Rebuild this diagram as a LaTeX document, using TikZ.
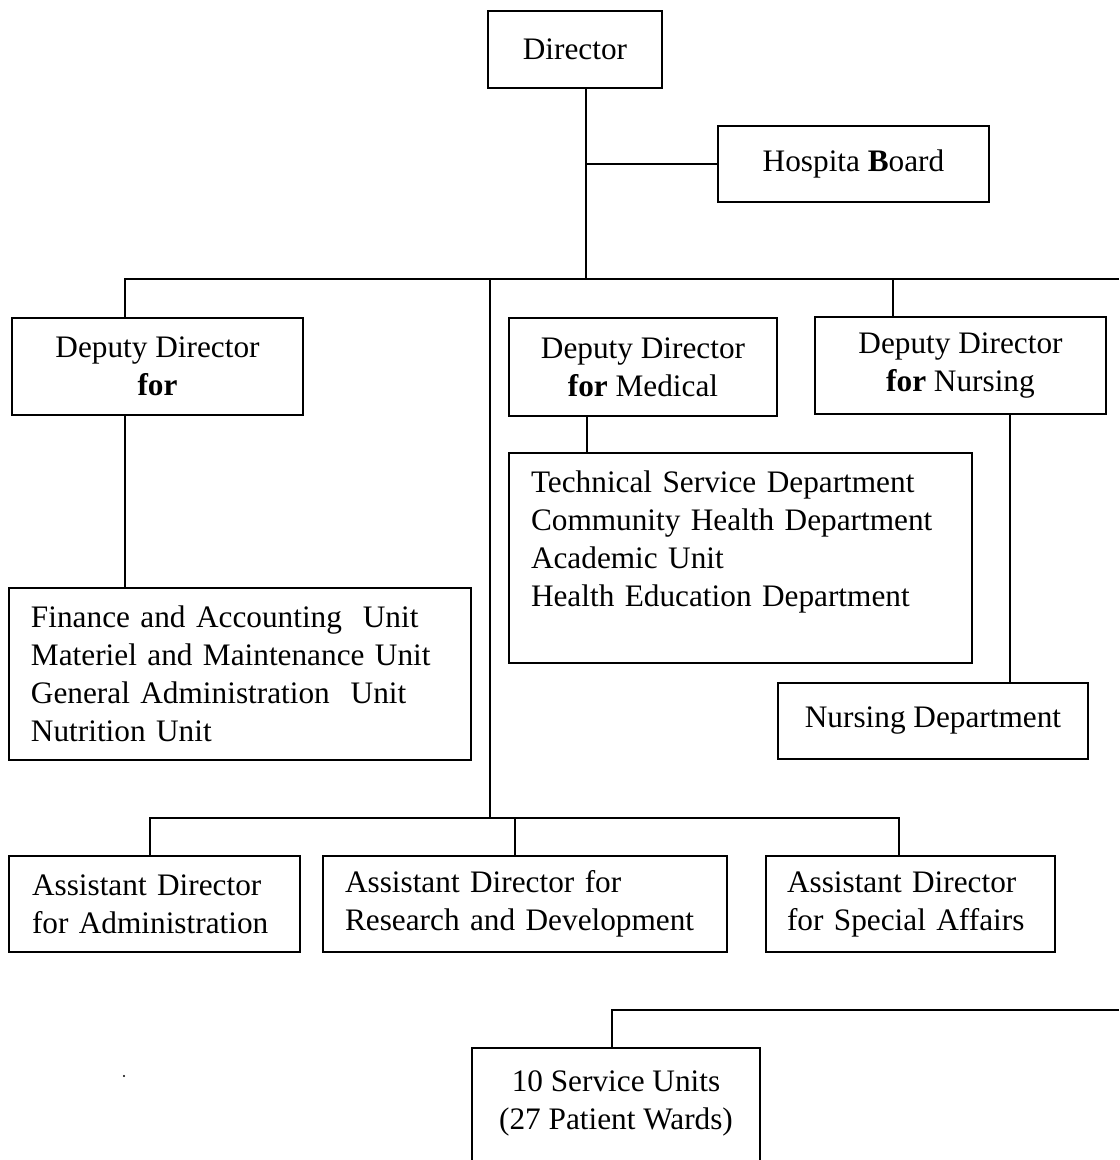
\documentclass[tikz,border=0pt]{standalone}
\usepackage{fontspec}
\setmainfont{Liberation Serif}
\usepackage{tikz}
\usetikzlibrary{positioning, calc}
\tikzset{
  orgbox/.style={
    draw, line width=0.6pt, align=center, outer sep=0pt, inner sep=0pt,
    font=\fontsize{8.9}{10.8}\selectfont
  },
  listbox/.style={
    draw, line width=0.6pt, align=left, outer sep=0pt,
    inner ysep=0pt, inner xsep=0.22cm,
    font=\fontsize{8.9}{10.8}\selectfont
  },
  orgline/.style={line width=0.6pt},
}

\begin{document}
\begin{tikzpicture}
  \useasboundingbox (0,0) rectangle (11.19,-11.60);
  \clip (0,0) rectangle (11.19,-11.60);

  % === Top level ===
  \node[orgbox, minimum width=1.74cm, minimum height=0.77cm] (dir) at (5.75,-0.495) {Director};
  \node[orgbox, minimum width=2.71cm, minimum height=0.76cm] (board) at (8.535,-1.64) {Hospita \textbf{B}oard};

  % === Deputy directors ===
  \node[orgbox, minimum width=2.91cm, minimum height=0.97cm] (ddgen) at (1.575,-3.665)
    {Deputy Director\\\textbf{for}};
  \node[orgbox, minimum width=2.68cm, minimum height=0.98cm] (ddmed) at (6.43,-3.67)
    {Deputy Director\\\textbf{for} Medical};
  \node[orgbox, minimum width=2.91cm, minimum height=0.97cm] (ddnur) at (9.605,-3.655)
    {Deputy Director\\\textbf{for} Nursing};

  % === Departments and units ===
  \node[listbox, text width=4.19cm, minimum height=2.10cm] (meddept) at (7.405,-5.58)
    {Technical Service Department\\
    Community Health Department\\
    Academic Unit\\
    Health Education Department\\~};
  \node[listbox, text width=4.18cm, minimum height=1.72cm] (units) at (2.40,-6.74)
    {Finance and Accounting\ \ Unit\\
    Materiel and Maintenance Unit\\
    General Administration\ \ Unit\\
    Nutrition Unit};
  \node[orgbox, minimum width=3.10cm, minimum height=0.76cm] (nurdept) at (9.33,-7.21) {Nursing Department};

  % === Assistant directors ===
  \node[listbox, text width=2.45cm, inner xsep=0.23cm, minimum height=0.96cm] (adadm) at (1.545,-9.04)
    {Assistant Director\\for Administration};
  \node[listbox, text width=3.60cm, minimum height=0.96cm] (adres) at (5.25,-9.04)
    {Assistant Director for\\Research and Development};
  \node[listbox, text width=2.47cm, inner xsep=0.21cm, minimum height=0.96cm] (adspec) at (9.105,-9.04)
    {Assistant Director\\for Special Affairs};

  % === Service units ===
  \node[orgbox, anchor=north, minimum width=2.88cm, minimum height=1.80cm] (service) at (6.16,-10.48)
    {10 Service Units\\(27 Patient Wards)\\~\\~};

  % === Connectors ===
  \coordinate (trunk) at (5.86,-2.79);
  \coordinate (busL) at (1.25,-2.79);
  \coordinate (busR) at (11.19,-2.79);
  \coordinate (midbus) at (4.90,-8.18);
  \coordinate (lowR) at (11.19,-10.10);

  \draw[orgline] (dir.south -| trunk) -- (trunk);
  \draw[orgline] (board.west) -- (board.west -| trunk);
  \draw[orgline] (ddgen.north -| busL) -- (busL) -- (busR);
  \draw[orgline] ([xshift=-0.675cm]ddnur.north) -- ([xshift=-0.675cm]ddnur.north |- busR);
  \draw[orgline] (busL -| midbus) -- (midbus);

  \draw[orgline] ([xshift=-0.325cm]ddgen.south) -- ([xshift=-0.325cm]ddgen.south |- units.north);
  \draw[orgline] ([xshift=-0.56cm]ddmed.south) -- ([xshift=-0.56cm]ddmed.south |- meddept.north);
  \draw[orgline] ([xshift=0.495cm]ddnur.south) -- ([xshift=0.495cm]ddnur.south |- nurdept.north);

  \draw[orgline] ([xshift=-0.045cm]adadm.north) -- ++(0,0.38)
    -- ([xshift=-0.115cm, yshift=0.38cm]adspec.north) -- ([xshift=-0.115cm]adspec.north);
  \draw[orgline] ([xshift=-0.10cm]adres.north) -- ++(0,0.38);

  \draw[orgline] ([xshift=-0.04cm]service.north) |- (lowR);

  \fill (1.24,-10.76) circle (0.012cm);
\end{tikzpicture}
\end{document}
